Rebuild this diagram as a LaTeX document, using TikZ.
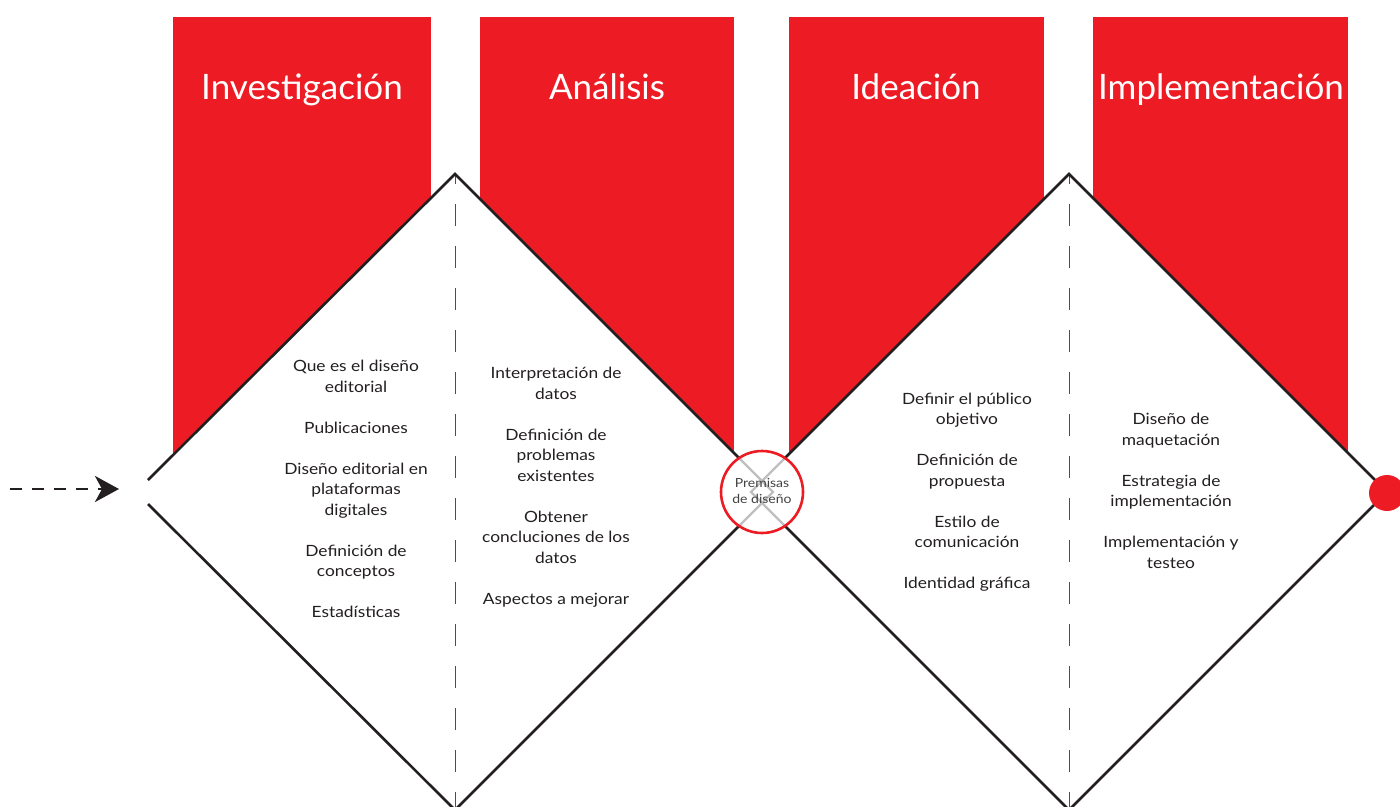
\documentclass[tikz,border=0pt]{standalone}
\usepackage{fontspec}
\setmainfont{Lato}
\newfontfamily\bodyfont{Lato}[FakeStretch=1.12]
\usetikzlibrary{arrows.meta}
\definecolor{brandred}{HTML}{ED1C24}
\definecolor{ink}{HTML}{231F20}
\begin{document}
\begin{tikzpicture}[x=1pt,y=-1pt,
  banner/.style={fill=brandred,draw=none},
  title/.style={text=white,font=\fontsize{35}{40}\selectfont,inner sep=0pt,anchor=base},
  edge/.style={draw=ink,line width=2.6pt,line join=miter},
  midline/.style={draw=ink!80,line width=0.8pt,dash pattern=on 22pt off 20pt,dash phase=12pt},
  body/.style={text=ink,align=center,font=\bodyfont\fontsize{15.5}{20.5}\selectfont,inner sep=0pt},
  premise/.style={text=ink!85,align=center,font=\bodyfont\fontsize{12.5}{16}\selectfont,inner sep=0pt}
]
\useasboundingbox (0,0) rectangle (1400,806);
\fill[white] (0,0) rectangle (1400,806);
% banners
\fill[banner] (173,17) rectangle (431,500);
\fill[banner] (480,17) rectangle (734,500);
\fill[banner] (789,17) rectangle (1044,500);
\fill[banner] (1093,17) rectangle (1348,500);
\node[title] (t1) at (302,99) {Investigación};
\node[title] (t2) at (607,99) {Análisis};
\node[title] (t3) at (916,99) {Ideación};
\node[title] (t4) at (1221,99) {Implementación};
% diamonds
\coordinate (d1top) at (455,174);
\coordinate (d1right) at (773,492);
\coordinate (d1bot) at (455,810);
\coordinate (d1lu) at (148,480);
\coordinate (d1ll) at (148,504);
\coordinate (d2top) at (1069,174);
\coordinate (d2left) at (751,492);
\coordinate (d2right) at (1387,492);
\coordinate (d2bot) at (1069,810);
\fill[white] (d1top) -- (d1right) -- (d1bot) -- (136,492) -- cycle;
\fill[white] (d2top) -- (d2right) -- (d2bot) -- (d2left) -- cycle;
\draw[midline] (d1top) -- (d1bot);
\draw[midline] (d2top) -- (d2bot);
\draw[edge] (d1lu) -- (d1top) -- (d1right) -- (d1bot) -- (d1ll);
\draw[edge] (d2left) -- (d2top) -- (d2right) -- (d2bot) -- cycle;
% premise circle
\coordinate (pc) at (762,492);
\fill[white] (pc) circle[radius=41];
\begin{scope}
  \clip (pc) circle[radius=41];
  \draw[draw=black!25,line width=2.4pt] (d1top) -- (d1right) -- (d1bot);
  \draw[draw=black!25,line width=2.4pt] (d2top) -- (d2left) -- (d2bot);
\end{scope}
\node[premise] (prem) at (762,491) {Premisas\\de diseño};
\draw[brandred,line width=2.6pt] (pc) circle[radius=41];
% end dot
\node[circle,fill=brandred,minimum size=36pt,inner sep=0pt] (enddot) at (1387,493) {};
% start arrow
\coordinate (as) at (10,489);
\coordinate (ae) at (119,489);
\draw[ink,line width=2.6pt,dash pattern=on 12pt off 10pt,-{Stealth[length=24pt,width=26pt,inset=7pt]}] (as) -- (ae);
% texts
\node[body] (b1) at (356,489) {Que es el diseño\\editorial\\[20.5pt]Publicaciones\\[20.5pt]Diseño editorial en\\plataformas\\digitales\\[20.5pt]Definición de\\conceptos\\[20.5pt]Estadísticas};
\node[body] (b2) at (556,487) {Interpretación de\\datos\\[20.5pt]Definición de\\problemas\\existentes\\[20.5pt]Obtener\\concluciones de los\\datos\\[20.5pt]Aspectos a mejorar};
\node[body] (b3) at (967,492) {Definir el público\\objetivo\\[20.5pt]Definición de\\propuesta\\[20.5pt]Estilo de\\comunicación\\[20.5pt]Identidad gráfica};
\node[body] (b4) at (1171,491) {Diseño de\\maquetación\\[20.5pt]Estrategia de\\implementación\\[20.5pt]Implementación y\\testeo};
\end{tikzpicture}
\end{document}
